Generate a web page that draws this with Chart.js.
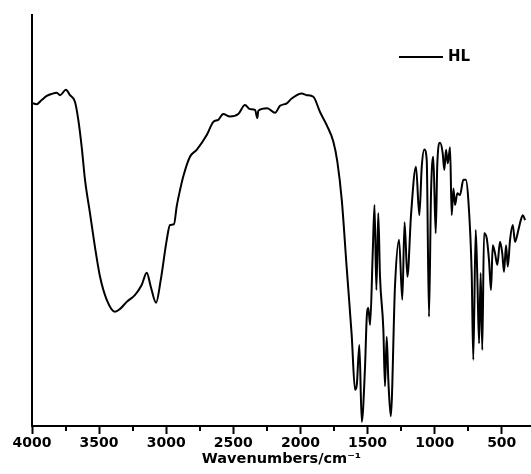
<!DOCTYPE html>
<html lang="en">
<head>
<meta charset="UTF-8">
<title>FT-IR spectrum HL</title>
<style>
    html, body { margin: 0; padding: 0; background: #fff; }
    #wrap { width: 531px; height: 474px; }
</style>
</head>
<body>
<div id="wrap"><canvas id="myChart" width="531" height="474"></canvas></div>
<script src="https://cdn.jsdelivr.net/npm/chart.js"></script>
<script>
// spectrum (wavenumber cm-1 / transmittance, arbitrary %)
const seriesName = 'HL';
const wavenumbers = [
    4000, 3965, 3928, 3890, 3853, 3816, 3791, 3747, 3717, 3680,
    3655, 3630, 3605, 3568, 3531, 3493, 3443, 3382, 3344, 3294,
    3232, 3183, 3145, 3115, 3076, 3041, 2996, 2972, 2942, 2922,
    2897, 2873, 2823, 2773, 2698, 2649, 2612, 2575, 2525, 2463,
    2413, 2376, 2338, 2321, 2314, 2247, 2189, 2152, 2102, 2065,
    1990, 1953, 1904, 1854, 1804, 1755, 1725, 1692, 1655, 1618,
    1593, 1580, 1561, 1543, 1519, 1506, 1494, 1481, 1461, 1448,
    1434, 1420, 1407, 1382, 1370, 1357, 1345, 1327, 1295, 1265,
    1241, 1224, 1203, 1176, 1139, 1114, 1096, 1077, 1059, 1042,
    1027, 1010, 992, 980, 960, 940, 928, 915, 902, 885,
    873, 860, 848, 831, 811, 786, 768, 749, 724, 712,
    694, 682, 669, 657, 645, 632, 612, 595, 580, 567,
    550, 533, 513, 496, 483, 468, 455, 438, 418, 401,
    376, 358, 343, 326
];
const transmittance = [
    78.6, 78.3, 79.3, 80.3, 80.8, 81.1, 80.5, 81.8, 80.5, 78.9,
    74.5, 68.0, 59.9, 51.8, 43.6, 36.3, 30.7, 27.8, 28.5, 30.2,
    31.9, 34.3, 37.3, 33.9, 30.0, 35.5, 45.3, 48.9, 49.1, 53.4,
    57.4, 60.7, 65.5, 67.2, 70.8, 74.0, 74.5, 75.9, 75.3, 75.9,
    78.1, 77.1, 76.9, 74.9, 76.7, 77.3, 76.2, 77.9, 78.5, 79.7,
    80.9, 80.5, 80.1, 76.4, 73.2, 69.2, 64.3, 55.0, 38.4, 22.1,
    8.8, 10.0, 19.7, 1.0, 14.1, 26.3, 28.7, 24.6, 42.4, 53.8,
    33.1, 51.8, 36.3, 23.4, 9.7, 21.7, 11.2, 2.4, 34.3, 45.3,
    30.7, 49.6, 36.3, 51.3, 63.1, 51.3, 63.1, 67.3, 64.7, 26.6,
    56.6, 65.5, 46.9, 63.9, 68.9, 66.4, 62.3, 67.2, 63.9, 67.8,
    51.3, 57.8, 53.8, 56.6, 56.2, 59.9, 59.9, 55.0, 37.2, 16.1,
    47.7, 36.3, 20.1, 37.2, 18.5, 46.9, 45.7, 40.4, 33.1, 44.0,
    42.0, 39.2, 44.8, 42.0, 37.5, 44.0, 38.8, 45.3, 48.9, 44.8,
    47.7, 50.1, 51.3, 50.1
];
const majorTicks = [4000, 3500, 3000, 2500, 2000, 1500, 1000, 500];
const minorTicks = [3750, 3250, 2750, 2250, 1750, 1250, 750];

const points = wavenumbers.map((w, i) => ({ x: w, y: transmittance[i] }));

// small ticks between the labelled ones
const minorTickPlugin = {
    id: 'minorTicks',
    afterDraw(chart) {
        const ctx = chart.ctx;
        const xs = chart.scales.x;
        ctx.save();
        ctx.strokeStyle = '#000';
        ctx.lineWidth = 2;
        minorTicks.forEach(v => {
            const px = Math.round(xs.getPixelForValue(v));
            ctx.beginPath();
            ctx.moveTo(px, xs.top);
            ctx.lineTo(px, xs.top + 5);
            ctx.stroke();
        });
        ctx.restore();
    }
};

// legend in the upper right corner
const lineLegendPlugin = {
    id: 'lineLegend',
    afterDraw(chart) {
        const ctx = chart.ctx;
        const ds = chart.data.datasets[0];
        ctx.save();
        ctx.strokeStyle = '#000';
        ctx.lineWidth = 1.8;
        ctx.beginPath();
        ctx.moveTo(399, 57);
        ctx.lineTo(443, 57);
        ctx.stroke();
        ctx.fillStyle = '#000';
        ctx.font = 'bold 15px "DejaVu Sans"';
        ctx.textBaseline = 'middle';
        ctx.fillText(ds.label, 448, 57);
        ctx.restore();
    }
};

var ctx = document.getElementById('myChart').getContext('2d');
var myChart = new Chart(ctx, {
    type: 'line',
    data: {
        datasets: [{
            label: seriesName,
            data: points,
            borderColor: '#000',
            borderWidth: 2,
            pointRadius: 0,
            fill: false,
            cubicInterpolationMode: 'monotone'
        }]
    },
    options: {
        responsive: false,
        animation: false,
        layout: { padding: { top: 15, right: 0, left: 0, bottom: 0 } },
        plugins: {
            legend: { display: false },
            tooltip: { enabled: false }
        },
        scales: {
            x: {
                type: 'linear',
                reverse: true,
                min: 282,
                max: 4000,
                afterBuildTicks: (scale) => {
                    scale.ticks = majorTicks.map(v => ({ value: v }));
                },
                afterFit: (scale) => { scale.height = 48; },
                ticks: {
                    color: '#000',
                    font: { family: 'DejaVu Sans', size: 14, weight: 'bold' },
                    padding: 1,
                    maxRotation: 0,
                    autoSkip: false,
                    callback: (v) => String(v)
                },
                grid: {
                    drawOnChartArea: false,
                    drawTicks: true,
                    tickLength: 8,
                    tickColor: '#000',
                    tickWidth: 2
                },
                border: { display: true, color: '#000', width: 2 },
                title: {
                    display: true,
                    text: 'Wavenumbers/cm\u207B\u00B9',
                    color: '#000',
                    font: { family: 'DejaVu Sans', size: 14.5, weight: 'bold' },
                    padding: { top: 0, bottom: 6 }
                }
            },
            y: {
                min: 0,
                max: 100,
                afterFit: (scale) => { scale.width = 32; },
                ticks: { display: false },
                grid: { display: false },
                border: { display: true, color: '#000', width: 2 }
            }
        }
    },
    plugins: [minorTickPlugin, lineLegendPlugin]
});
</script>
</body>
</html>
